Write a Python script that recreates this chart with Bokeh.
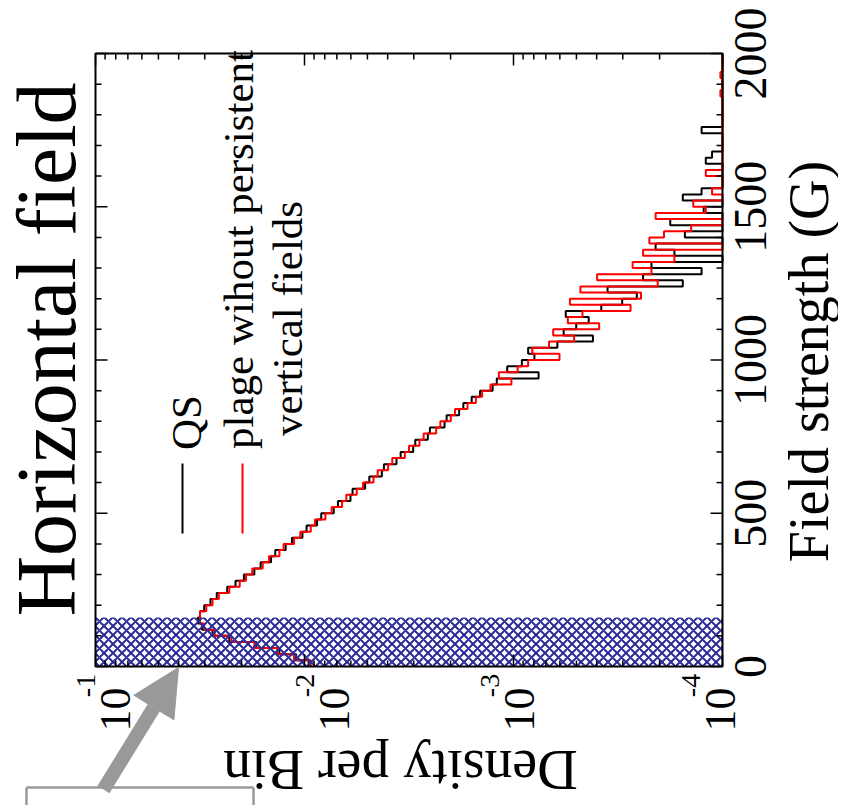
import math
from bokeh.plotting import figure
from bokeh.models import Range1d, Label, Arrow, NormalHead
from bokeh.embed import file_html
from bokeh.resources import INLINE

# ---------------- data ----------------
field_edges = list(range(0, 2001, 20))          # G, 20 G bins
# log10(density per bin); None = empty bin
qs_log_density = [
    -2.02, -1.96, -1.88, -1.77, -1.64, -1.56, -1.51, -1.49, -1.50, -1.52,
    -1.55, -1.58, -1.63, -1.67, -1.71, -1.76, -1.79, -1.84, -1.86, -1.91,
    -1.94, -1.99, -2.01, -2.06, -2.08, -2.14, -2.16, -2.22, -2.23, -2.29,
    -2.31, -2.37, -2.38, -2.44, -2.46, -2.52, -2.53, -2.59, -2.60, -2.67,
    -2.68, -2.74, -2.76, -2.80, -2.84, -2.90, -2.92, -3.12, -2.97, -3.04,
    -3.10, -3.07, -3.21, -3.38, -3.24, -3.30, -3.36, -3.25, -3.42, -3.52,
    -3.59, -3.45, -3.81, -3.62, -3.90, -3.66, None, -3.77, -3.68, None,
    -3.82, None, -3.75, None, -3.91, None, -3.81, -3.90, None, None,
    None, None, -3.92, -3.95, None, None, None, -3.90, None, None,
    None, None, None, None, None, None, None, None, None, None,
]
plage_log_density = [
    -2.03, -1.95, -1.87, -1.76, -1.65, -1.57, -1.52, -1.50, -1.50, -1.53,
    -1.56, -1.59, -1.64, -1.69, -1.72, -1.75, -1.80, -1.83, -1.88, -1.90,
    -1.95, -1.98, -2.03, -2.05, -2.10, -2.13, -2.18, -2.20, -2.25, -2.28,
    -2.33, -2.35, -2.40, -2.42, -2.48, -2.50, -2.55, -2.57, -2.63, -2.65,
    -2.70, -2.72, -2.78, -2.82, -2.85, -2.89, -2.99, -2.93, -3.02, -3.07,
    -3.22, -3.09, -3.17, -3.29, -3.19, -3.41, -3.26, -3.33, -3.56, -3.27,
    -3.61, -3.32, -3.69, -3.40, -3.66, -3.57, -3.77, -3.62, None, -3.65,
    -3.72, -3.85, None, -3.68, -3.92, -3.86, None, -3.95, None, None,
    -3.92, None, None, None, None, None, None, None, None, None,
    None, None, None, -3.99, None, None, -3.99, None, None, None,
]
field_major_ticks = [0, 500, 1000, 1500, 2000]
field_minor_step = 100
density_major_ticks = [1e-1, 1e-2, 1e-3, 1e-4]
density_exponents = ["-1", "-2", "-3", "-4"]
highlight_field = [0, 160]

# ---------------- layout ----------------
SERIF = "Liberation Serif"
W, H = 838, 805
F_LEFT, F_RIGHT, F_TOP, F_BOTTOM = 95, 722, 53, 666    # plot box edges (px)
D_LO, D_HI = 1e-1, 1e-4                                # density range (left -> right)
B_LO, B_HI = 0, 2000                                   # field range
n_dec = math.log10(D_LO) - math.log10(D_HI)
dec_px = (F_RIGHT - F_LEFT) / n_dec
g_px = (F_BOTTOM - F_TOP) / (B_HI - B_LO)
ten_shift = [20, 30, 6, -2]      # px shift of "10" label centre from its tick
exp_shift = -30                  # px shift of exponent relative to "10"

x_start = 10 ** (math.log10(D_LO) + F_LEFT / dec_px)
x_end = 10 ** (math.log10(D_HI) - (W - F_RIGHT) / dec_px)
y_start = B_LO - (H - F_BOTTOM) / g_px
y_end = B_HI + F_TOP / g_px

p = figure(width=W, height=H, x_axis_type="log", x_axis_location=None, y_axis_location=None,
           x_range=Range1d(x_start, x_end), y_range=Range1d(y_start, y_end),
           output_backend="svg", toolbar_location=None, min_border=0,
           background_fill_color="white", border_fill_color="white")
p.outline_line_color = None
for g in p.grid:
    g.visible = False

# ---------------- histograms (density horizontal, field vertical) ----------------
def step_path(edges, logs):
    xs, ys = [], []
    for i, v in enumerate(logs):
        d = 10 ** v if v is not None else D_HI      # empty bins run to the plot edge
        xs += [d, d]
        ys += [edges[i], edges[i + 1]]
    return xs, ys

qx, qy = step_path(field_edges, qs_log_density)
rx, ry = step_path(field_edges, plage_log_density)
p.line(qx, qy, line_color="black", line_width=2)
p.line(rx, ry, line_color="#ff0000", line_width=2)

# hatched region
p.quad(left=[D_LO], right=[D_HI], bottom=[highlight_field[0]], top=[highlight_field[1]],
       fill_color=None, line_color=None, hatch_pattern="diagonal_cross",
       hatch_color="#2b2b98", hatch_scale=9, hatch_weight=2)

# ---------------- ticks (inward, on all four sides) ----------------
MAJ, MIN = 12, 6
log_minor = [m * 10 ** k for k in range(int(math.log10(D_HI)), int(math.log10(D_LO))) for m in range(2, 10)]
field_minor = [b for b in range(B_LO, B_HI + 1, field_minor_step) if b not in field_major_ticks]

def x_ticks(vals, length):
    L = length / g_px
    p.segment(x0=vals, y0=[B_LO] * len(vals), x1=vals, y1=[B_LO + L] * len(vals),
              line_color="black", line_width=1.5)
    p.segment(x0=vals, y0=[B_HI] * len(vals), x1=vals, y1=[B_HI - L] * len(vals),
              line_color="black", line_width=1.5)

def y_ticks(vals, length):
    f = 10 ** (length / dec_px)
    p.segment(x0=[D_LO] * len(vals), y0=vals, x1=[D_LO / f] * len(vals), y1=vals,
              line_color="black", line_width=1.5)
    p.segment(x0=[D_HI] * len(vals), y0=vals, x1=[D_HI * f] * len(vals), y1=vals,
              line_color="black", line_width=1.5)

x_ticks(density_major_ticks, MAJ)
x_ticks(log_minor, MIN)
y_ticks(field_major_ticks, MAJ)
y_ticks(field_minor, MIN)

# plot box
p.quad(left=[D_LO], right=[D_HI], bottom=[B_LO], top=[B_HI],
       fill_color=None, line_color="black", line_width=2)

# ---------------- texts (screen px from top-left -> bokeh screen units) ----------------
def SX(px):
    return px

def SY(py):
    return H - py

def lab(text, x, y, size, angle, x_units="screen", y_units="screen", x_offset=0):
    p.add_layout(Label(x=x, y=y, x_units=x_units, y_units=y_units, text=text,
                       text_font=SERIF, text_font_size=f"{size}px", angle=angle,
                       angle_units="rad", text_align="center", text_baseline="middle",
                       x_offset=x_offset, text_color="black"))

UP = math.pi / 2
lab("Horizontal field", SX(46), SY(349), 84, UP)
lab("Field strength (G)", SX(808), SY(361), 56, UP)
lab("Density per Bin", SX(400), SY(769), 56, math.pi)
for v in field_major_ticks:
    lab(str(v), SX(750), v, 46, UP, y_units="data")
for t, e, s in zip(density_major_ticks, density_exponents, ten_shift):
    lab("10", t, SY(709), 44, UP, x_units="data", x_offset=s)
    lab(e, t, SY(685), 28, UP, x_units="data", x_offset=s + exp_shift)

# legend
lab("QS", SX(186), SY(422), 43, UP)
lab("plage wihout persistent", SX(238), SY(249), 43, UP)
lab("vertical fields", SX(287), SY(318), 43, UP)
for lx, col in [(182, "black"), (242, "#ff0000")]:
    p.add_layout(Arrow(x_start=SX(lx), y_start=SY(533), x_end=SX(lx), y_end=SY(463),
                       start_units="screen", end_units="screen", end=None,
                       line_color=col, line_width=2))

# call-out box and arrow
GRAY = "#999999"
for (x0, y0, x1, y1) in [(26, 787, 253, 787), (26, 787, 26, 830), (253, 787, 253, 830)]:
    p.add_layout(Arrow(x_start=SX(x0), y_start=SY(y0), x_end=SX(x1), y_end=SY(y1),
                       start_units="screen", end_units="screen", end=None,
                       line_color=GRAY, line_width=2.5))
p.add_layout(Arrow(x_start=SX(103), y_start=SY(789), x_end=SX(178), y_end=SY(667),
                   start_units="screen", end_units="screen",
                   end=NormalHead(size=47, fill_color=GRAY, line_color=GRAY, line_width=1),
                   line_color=GRAY, line_width=14))

open("out.html", "w").write(file_html(p, INLINE))
